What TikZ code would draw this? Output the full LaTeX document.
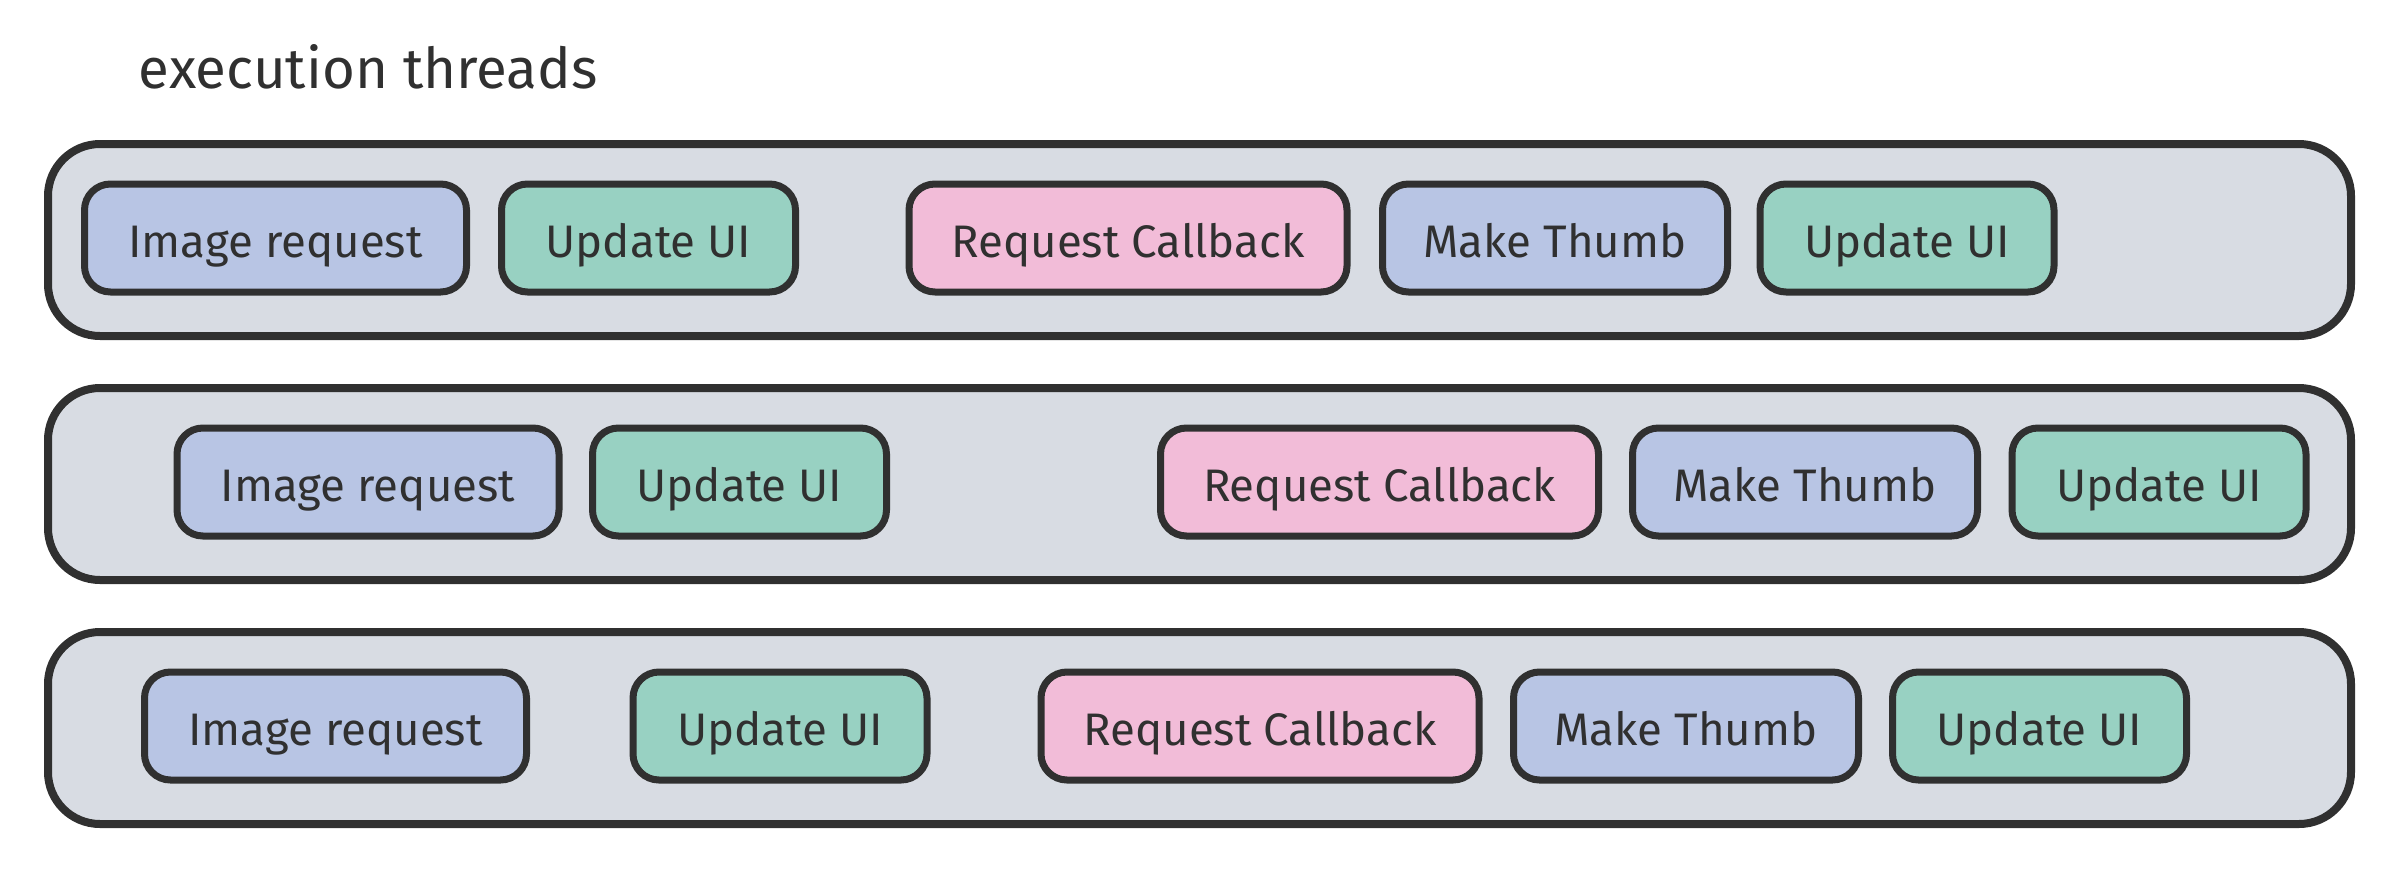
\documentclass[tikz,border=0pt]{standalone}
\usepackage{fontspec}
\setsansfont{Fira Sans}
\definecolor{ink}{HTML}{303030}
\definecolor{rowgray}{HTML}{D8DCE3}
\definecolor{taskblue}{HTML}{B8C5E4}
\definecolor{taskgreen}{HTML}{98D1C2}
\definecolor{taskpink}{HTML}{F2BCD8}
\tikzset{
  thread/.style={draw=ink, fill=rowgray, line width=2pt, rounded corners=13pt,
    minimum width=575.75pt, minimum height=48pt},
  task/.style={draw=ink, line width=1.75pt, rounded corners=6.5pt, text=ink,
    font=\sffamily\fontsize{11.4}{13}\selectfont, minimum height=27pt,
    text height=11.5pt, text depth=2pt, inner sep=0pt},
  imgreq/.style={task, fill=taskblue, minimum width=95.5pt},
  updui/.style={task, fill=taskgreen, minimum width=73.5pt},
  reqcb/.style={task, fill=taskpink, minimum width=109.5pt},
  mkthumb/.style={task, fill=taskblue, minimum width=86.25pt}
}
\begin{document}
\begin{tikzpicture}[x=0.25pt, y=-0.25pt]
      \useasboundingbox (0,0) rectangle (2400,868);
      \node[anchor=base west, inner sep=0pt, text=ink, font=\sffamily\fontsize{14.1}{17}\selectfont] (title) at (138,88) {execution threads};
      \node[thread] (row1) at (1199.5,240) {};
      \node[thread] (row2) at (1199.5,484) {};
      \node[thread] (row3) at (1199.5,728) {};
      \node[imgreq] (ir1) at (275.5,238) {Image request};
      \node[updui] (ui1a) at (648.5,238) {Update UI};
      \node[reqcb] (rc1) at (1128,238) {Request Callback};
      \node[mkthumb] (mt1) at (1555,238) {Make Thumb};
      \node[updui] (ui1b) at (1907,238) {Update UI};
      \node[imgreq] (ir2) at (368,482) {Image request};
      \node[updui] (ui2a) at (739.5,482) {Update UI};
      \node[reqcb] (rc2) at (1379.5,482) {Request Callback};
      \node[mkthumb] (mt2) at (1805,482) {Make Thumb};
      \node[updui] (ui2b) at (2159,482) {Update UI};
      \node[imgreq] (ir3) at (335.5,726) {Image request};
      \node[updui] (ui3a) at (780,726) {Update UI};
      \node[reqcb] (rc3) at (1260,726) {Request Callback};
      \node[mkthumb] (mt3) at (1686,726) {Make Thumb};
      \node[updui] (ui3b) at (2039.5,726) {Update UI};
    \end{tikzpicture}
\end{document}
